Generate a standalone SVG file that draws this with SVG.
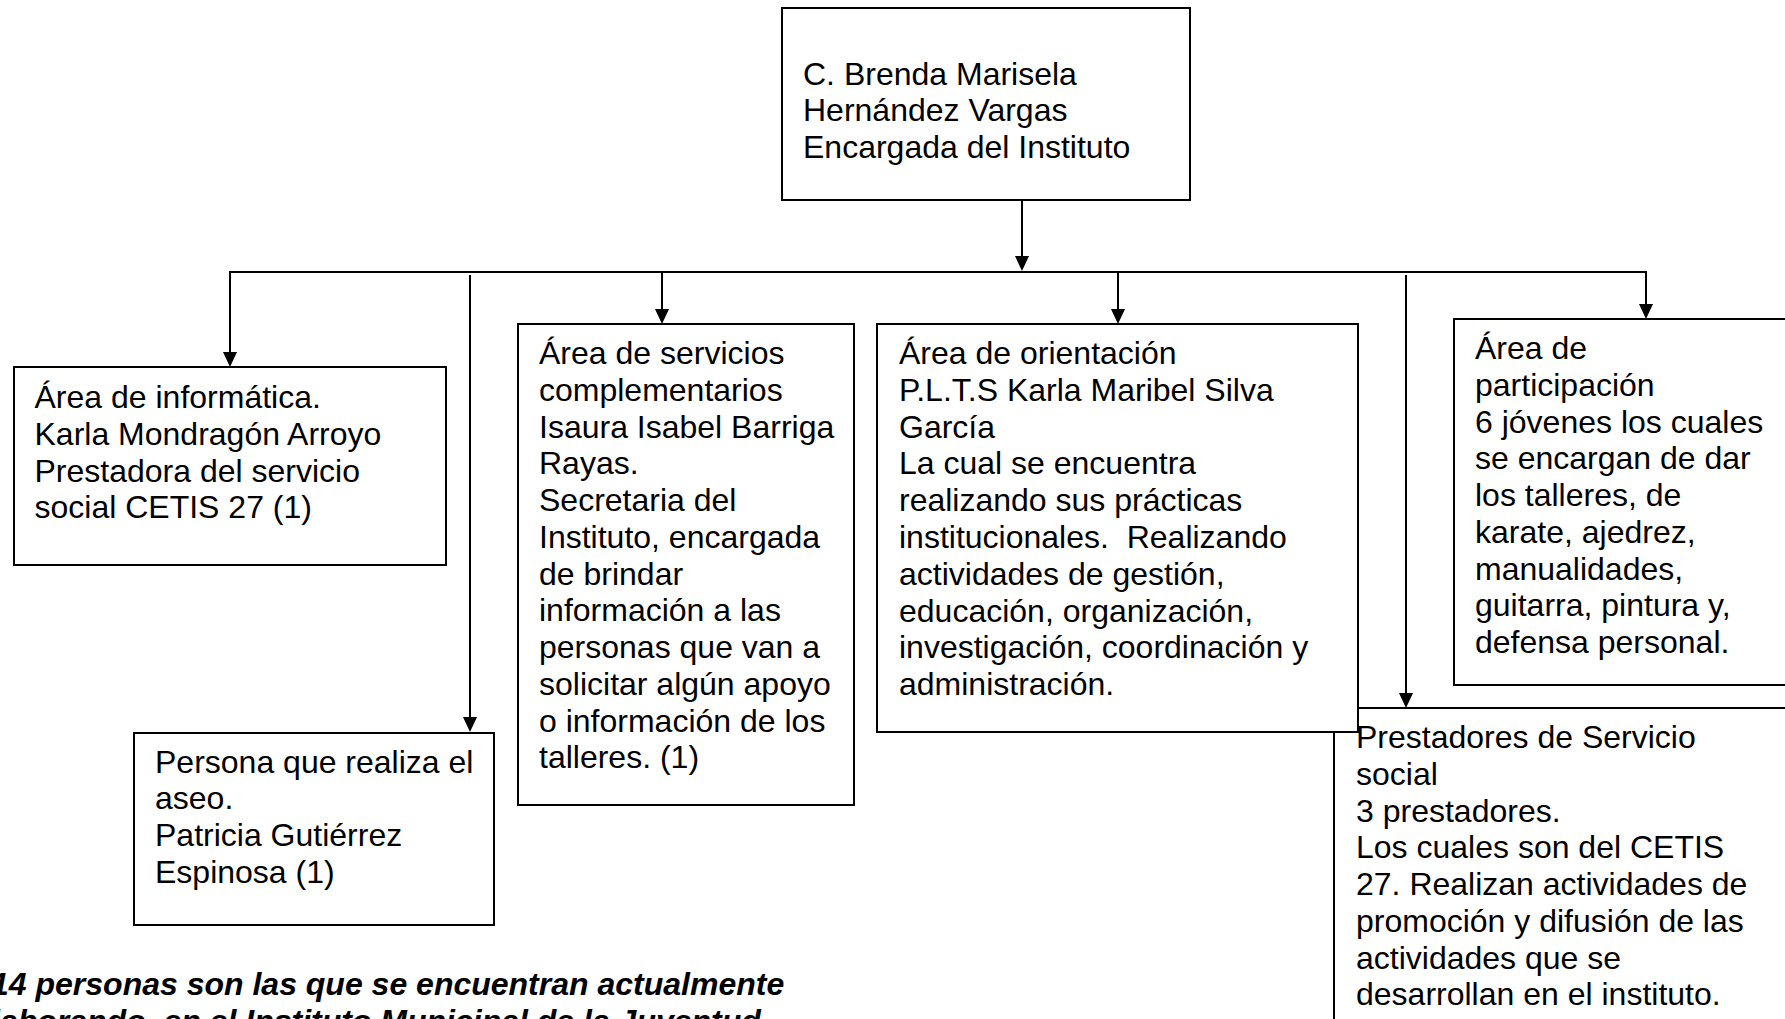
<svg xmlns="http://www.w3.org/2000/svg" width="1785" height="1019" viewBox="0 0 1785 1019">
<style>
.box{fill:#fff;stroke:#000;stroke-width:2}
.t{font-family:"Liberation Sans",Arial,sans-serif;font-size:32px;fill:#000}
.n{font-family:"Liberation Sans",Arial,sans-serif;font-size:32px;font-weight:bold;font-style:italic;fill:#000}
.c{stroke:#000;stroke-width:2;fill:none}
</style>
<defs>
<marker id="ah" viewBox="0 0 15 14" refX="1" refY="7" markerWidth="15" markerHeight="14" markerUnits="userSpaceOnUse" orient="auto">
<path d="M0,0 L15,7 L0,14 z" fill="#000"/>
</marker>
</defs>
<rect width="1785" height="1019" fill="#fff"/>

<g id="connectors">
<line class="c" x1="1022" y1="200" x2="1022" y2="257" marker-end="url(#ah)"/>
<line class="c" x1="229" y1="272" x2="1647" y2="272"/>
<line class="c" x1="230" y1="272" x2="230" y2="353" marker-end="url(#ah)"/>
<line class="c" x1="470" y1="275" x2="470" y2="718" marker-end="url(#ah)"/>
<line class="c" x1="662" y1="272" x2="662" y2="310" marker-end="url(#ah)"/>
<line class="c" x1="1118" y1="272" x2="1118" y2="310" marker-end="url(#ah)"/>
<line class="c" x1="1406" y1="275" x2="1406" y2="694" marker-end="url(#ah)"/>
<line class="c" x1="1646" y1="271" x2="1646" y2="305" marker-end="url(#ah)"/>
</g>

<g id="encargada">
<rect class="box" x="782" y="8" width="408" height="192"/>
<text class="t"><tspan x="803" y="84.5">C. Brenda Marisela</tspan><tspan x="803" y="121">Hernández Vargas</tspan><tspan x="803" y="157.5">Encargada del Instituto</tspan></text>
</g>

<g id="informatica">
<rect class="box" x="14" y="367" width="432" height="198"/>
<text class="t"><tspan x="34.5" y="408.3">Área de informática.</tspan><tspan x="34.5" y="445">Karla Mondragón Arroyo</tspan><tspan x="34.5" y="481.7">Prestadora del servicio</tspan><tspan x="34.5" y="518.4">social CETIS 27 (1)</tspan></text>
</g>

<g id="aseo">
<rect class="box" x="134" y="733" width="360" height="192"/>
<text class="t"><tspan x="155" y="772.7">Persona que realiza el</tspan><tspan x="155" y="809.4">aseo.</tspan><tspan x="155" y="846.1">Patricia Gutiérrez</tspan><tspan x="155" y="882.8">Espinosa (1)</tspan></text>
</g>

<g id="servicios">
<rect class="box" x="518" y="324" width="336" height="481"/>
<text class="t"><tspan x="539" y="364">Área de servicios</tspan><tspan x="539" y="400.75">complementarios</tspan><tspan x="539" y="437.5">Isaura Isabel Barriga</tspan><tspan x="539" y="474.25">Rayas.</tspan><tspan x="539" y="511">Secretaria del</tspan><tspan x="539" y="547.75">Instituto, encargada</tspan><tspan x="539" y="584.5">de brindar</tspan><tspan x="539" y="621.25">información a las</tspan><tspan x="539" y="658">personas que van a</tspan><tspan x="539" y="694.75">solicitar algún apoyo</tspan><tspan x="539" y="731.5">o información de los</tspan><tspan x="539" y="768.25">talleres. (1)</tspan></text>
</g>

<g id="prestadores">
<rect class="box" x="1334" y="708" width="470" height="330"/>
<text class="t"><tspan x="1356" y="748.3">Prestadores de Servicio</tspan><tspan x="1356" y="785">social</tspan><tspan x="1356" y="821.7">3 prestadores.</tspan><tspan x="1356" y="858.4">Los cuales son del CETIS</tspan><tspan x="1356" y="895.1">27. Realizan actividades de</tspan><tspan x="1356" y="931.8">promoción y difusión de las</tspan><tspan x="1356" y="968.5">actividades que se</tspan><tspan x="1356" y="1005.2">desarrollan en el instituto.</tspan></text>
</g>

<g id="orientacion">
<rect class="box" x="877" y="324" width="481" height="408"/>
<text class="t" xml:space="preserve"><tspan x="899" y="364">Área de orientación</tspan><tspan x="899" y="400.8">P.L.T.S Karla Maribel Silva</tspan><tspan x="899" y="437.6">García</tspan><tspan x="899" y="474.4">La cual se encuentra</tspan><tspan x="899" y="511.2">realizando sus prácticas</tspan><tspan x="899" y="548">institucionales.  Realizando</tspan><tspan x="899" y="584.8">actividades de gestión,</tspan><tspan x="899" y="621.6">educación, organización,</tspan><tspan x="899" y="658.4">investigación, coordinación y</tspan><tspan x="899" y="695.2">administración.</tspan></text>
</g>

<g id="participacion">
<rect class="box" x="1454" y="319" width="350" height="366"/>
<text class="t"><tspan x="1475" y="359.3">Área de</tspan><tspan x="1475" y="396">participación</tspan><tspan x="1475" y="432.7">6 jóvenes los cuales</tspan><tspan x="1475" y="469.4">se encargan de dar</tspan><tspan x="1475" y="506.1">los talleres, de</tspan><tspan x="1475" y="542.8">karate, ajedrez,</tspan><tspan x="1475" y="579.5">manualidades,</tspan><tspan x="1475" y="616.2">guitarra, pintura y,</tspan><tspan x="1475" y="652.9">defensa personal.</tspan></text>
</g>

<g id="nota">
<text class="n"><tspan x="-9" y="995">14 personas son las que se encuentran actualmente</tspan><tspan x="-9" y="1031.7">laborando, en el Instituto Municipal de la Juventud</tspan></text>
</g>
</svg>
